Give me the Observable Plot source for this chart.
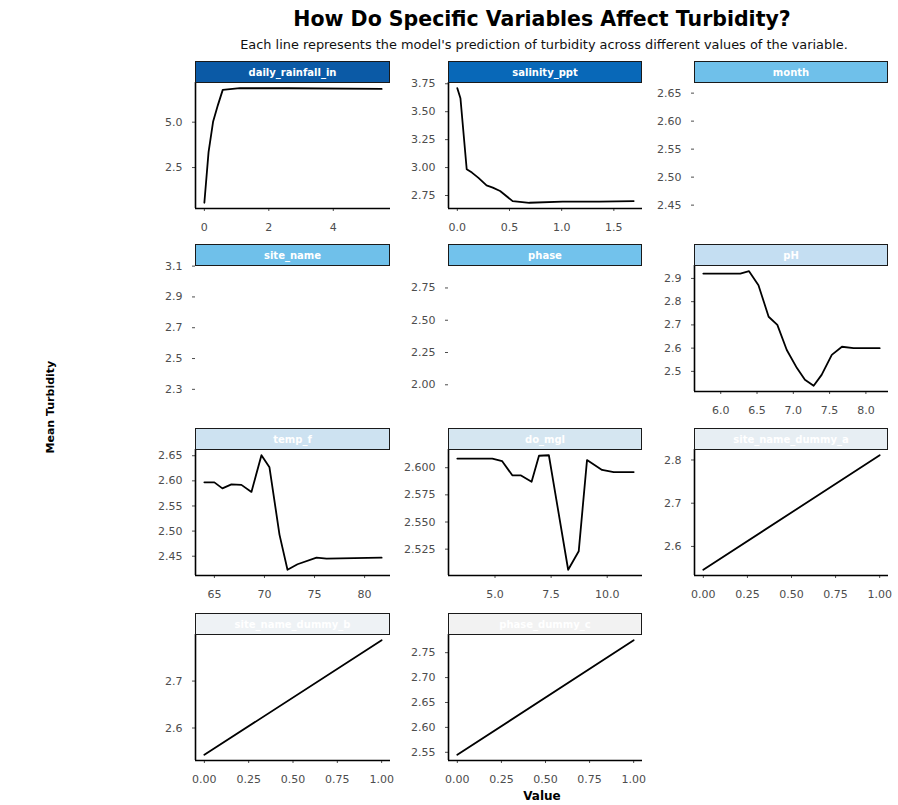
<!DOCTYPE html>
<html>
<head>
<meta charset="utf-8">
<script src="https://cdn.jsdelivr.net/npm/d3@7"></script>
<script src="https://cdn.jsdelivr.net/npm/@observablehq/plot@0.6"></script>
<style>
  html, body { margin: 0; padding: 0; background: #fff; }
  #chart { position: relative; width: 898px; height: 805px; font-family: "DejaVu Sans", sans-serif; overflow: hidden; }
  .abs { position: absolute; }
  .title { font-weight: bold; font-size: 20.5px; color: #000; text-align: center; white-space: nowrap; }
  .subtitle { font-size: 12.9px; color: #111; text-align: center; white-space: nowrap; }
  .strip { box-sizing: border-box; border: 1px solid #1a1a1a; color: #fff; font-weight: bold; font-size: 10px; display: flex; align-items: center; justify-content: center; white-space: nowrap; overflow: hidden; }
  .ytitle { font-weight: bold; font-size: 11px; transform: rotate(-90deg); white-space: nowrap; }
  .xtitle { font-weight: bold; font-size: 12px; }
</style>
</head>
<body>
<div id="chart"></div>
<script>
// ---------- Data ----------
const titleText = "How Do Specific Variables Affect Turbidity?";
const subtitleText = "Each line represents the model's prediction of turbidity across different values of the variable.";
const yTitle = "Mean Turbidity";
const xTitle = "Value";

const variables = ["daily_rainfall_in", "salinity_ppt", "month", "site_name", "phase", "pH", "temp_f", "do_mgl", "site_name_dummy_a", "site_name_dummy_b", "phase_dummy_c"];
const stripColors = ["#0b5aa6", "#0868b8", "#6fc0ea", "#6fc0ea", "#72c2ec", "#c4def2", "#cde2f1", "#d5e6f1", "#e7eef3", "#eef2f5", "#f2f2f2"];

const rainfallX = [0, 0.13, 0.27, 0.42, 0.57, 1.1, 2.6, 5.5];
const rainfallY = [0.56, 3.35, 5.02, 5.94, 6.78, 6.87, 6.87, 6.83];

const salinityX = [0, 0.03, 0.09, 0.14, 0.20, 0.28, 0.34, 0.41, 0.53, 0.69, 1.01, 1.36, 1.69];
const salinityY = [3.71, 3.62, 2.985, 2.955, 2.91, 2.84, 2.82, 2.79, 2.70, 2.685, 2.695, 2.695, 2.70];

const monthRange = [2.444, 2.669];
const siteRange = [2.286, 3.104];
const phaseRange = [1.948, 2.924];

const phX = [5.76, 6.27, 6.39, 6.52, 6.66, 6.78, 6.91, 7.05, 7.16, 7.28, 7.39, 7.53, 7.67, 7.83, 8.19];
const phY = [2.921, 2.921, 2.931, 2.871, 2.735, 2.70, 2.592, 2.514, 2.464, 2.438, 2.485, 2.571, 2.606, 2.60, 2.60];

const tempX = [64.0, 65.0, 65.8, 66.7, 67.7, 68.7, 69.7, 70.5, 71.5, 72.3, 73.3, 75.2, 76.2, 81.7];
const tempY = [2.597, 2.597, 2.585, 2.593, 2.592, 2.578, 2.651, 2.627, 2.493, 2.423, 2.434, 2.447, 2.445, 2.447];

const doX = [3.32, 4.88, 5.32, 5.77, 6.14, 6.63, 6.96, 7.4, 8.26, 8.73, 9.1, 9.77, 10.29, 11.18];
const doY = [2.6084, 2.6084, 2.606, 2.593, 2.593, 2.587, 2.611, 2.6115, 2.506, 2.523, 2.607, 2.598, 2.596, 2.596];

const dummyX = [0, 1];
const dummyAY = [2.546, 2.811];
const dummyBY = [2.543, 2.787];
const dummyCY = [2.545, 2.775];

// tick values
const rainfallXTicks = [0, 2, 4], rainfallYTicks = [2.5, 5.0];
const salinityXTicks = [0, 0.5, 1.0, 1.5], salinityYTicks = [2.75, 3.00, 3.25, 3.50, 3.75];
const monthYTicks = [2.45, 2.50, 2.55, 2.60, 2.65];
const siteYTicks = [2.3, 2.5, 2.7, 2.9, 3.1];
const phaseYTicks = [2.00, 2.25, 2.50, 2.75];
const phXTicks = [6.0, 6.5, 7.0, 7.5, 8.0], phYTicks = [2.5, 2.6, 2.7, 2.8, 2.9];
const tempXTicks = [65, 70, 75, 80], tempYTicks = [2.45, 2.50, 2.55, 2.60, 2.65];
const doXTicks = [5.0, 7.5, 10.0], doYTicks = [2.525, 2.550, 2.575, 2.600];
const dummyXTicks = [0, 0.25, 0.5, 0.75, 1.0];
const dummyAYTicks = [2.6, 2.7, 2.8];
const dummyBYTicks = [2.6, 2.7];
const dummyCYTicks = [2.55, 2.60, 2.65, 2.70, 2.75];

// ---------- Layout ----------
const colLeft = [195, 448, 694];
const colWidth = [195, 194, 194];
const rowStripTop = [61, 244, 428, 613];
const stripH = 21;
const plotH = 126;
const mL = 60, mB = 40;

const f = s => d3.format(s);
const pad = ext => { const s = ext[1] - ext[0]; return [ext[0] - 0.05 * s, ext[1] + 0.05 * s]; };

const panels = [
  {xs: rainfallX, ys: rainfallY, xt: rainfallXTicks, yt: rainfallYTicks, xf: "d", yf: ".1f"},
  {xs: salinityX, ys: salinityY, xt: salinityXTicks, yt: salinityYTicks, xf: ".1f", yf: ".2f"},
  {range: monthRange, yt: monthYTicks, yf: ".2f"},
  {range: siteRange, yt: siteYTicks, yf: ".1f"},
  {range: phaseRange, yt: phaseYTicks, yf: ".2f"},
  {xs: phX, ys: phY, xt: phXTicks, yt: phYTicks, xf: ".1f", yf: ".1f"},
  {xs: tempX, ys: tempY, xt: tempXTicks, yt: tempYTicks, xf: "d", yf: ".2f"},
  {xs: doX, ys: doY, xt: doXTicks, yt: doYTicks, xf: ".1f", yf: ".3f"},
  {xs: dummyX, ys: dummyAY, xt: dummyXTicks, yt: dummyAYTicks, xf: ".2f", yf: ".1f"},
  {xs: dummyX, ys: dummyBY, xt: dummyXTicks, yt: dummyBYTicks, xf: ".2f", yf: ".1f"},
  {xs: dummyX, ys: dummyCY, xt: dummyXTicks, yt: dummyCYTicks, xf: ".2f", yf: ".2f"}
];

const chart = document.getElementById("chart");
function addDiv(cls, text, css) {
  const d = document.createElement("div");
  d.className = "abs " + cls;
  d.textContent = text;
  Object.assign(d.style, css);
  chart.appendChild(d);
  return d;
}

addDiv("title", titleText, {left: "142px", top: "7px", width: "800px"});
addDiv("subtitle", subtitleText, {left: "144px", top: "37px", width: "800px"});
addDiv("ytitle", yTitle, {left: "5px", top: "402px", width: "90px", textAlign: "center"});
addDiv("xtitle", xTitle, {left: "492px", top: "789px", width: "100px", textAlign: "center"});

const axisStyle = {fontFamily: "'DejaVu Sans', sans-serif", fontSize: "11px", color: "#4d4d4d", background: "transparent", overflow: "visible"};

panels.forEach((p, i) => {
  const col = i % 3, row = Math.floor(i / 3);
  const left = colLeft[col], w = colWidth[col];
  const stripTop = rowStripTop[row];
  const plotTop = stripTop + stripH;

  let plot;
  if (p.range) {
    plot = Plot.plot({
      width: mL + w, height: plotH + mB,
      marginLeft: mL, marginRight: 0, marginTop: 0, marginBottom: mB,
      x: {axis: null, domain: [0, 1]},
      y: {domain: p.range, ticks: p.yt, tickFormat: f(p.yf), tickSize: 3, tickPadding: 10, label: null},
      style: axisStyle,
      marks: [Plot.ruleY(p.range, {stroke: "none"})]
    });
  } else {
    const data = p.xs.map((x, k) => ({x, y: p.ys[k]}));
    const xd = pad(d3.extent(p.xs)), yd = pad(d3.extent(p.ys));
    plot = Plot.plot({
      width: mL + w, height: plotH + mB,
      marginLeft: mL, marginRight: 0, marginTop: 0, marginBottom: mB,
      x: {domain: xd, ticks: p.xt, tickFormat: f(p.xf), tickSize: 3, tickPadding: 12, label: null},
      y: {domain: yd, ticks: p.yt, tickFormat: f(p.yf), tickSize: 3, tickPadding: 10, label: null},
      style: axisStyle,
      marks: [
        Plot.ruleX([xd[0]], {stroke: "#000", strokeWidth: 1.6}),
        Plot.ruleY([yd[0]], {stroke: "#000", strokeWidth: 1.6}),
        Plot.line(data, {x: "x", y: "y", stroke: "#000", strokeWidth: 1.8})
      ]
    });
  }
  plot.style.position = "absolute";
  plot.style.left = (left - mL) + "px";
  plot.style.top = plotTop + "px";
  chart.appendChild(plot);

  addDiv("strip", variables[i], {left: left + "px", top: stripTop + "px", width: w + "px", height: (stripH + 1) + "px", background: stripColors[i]});
});
</script>
</body>
</html>
